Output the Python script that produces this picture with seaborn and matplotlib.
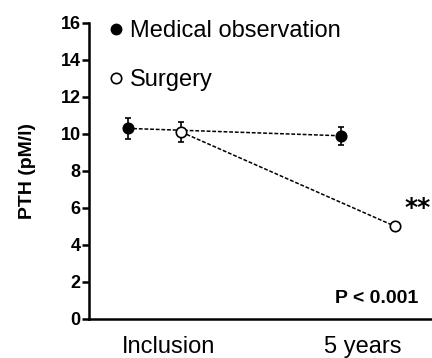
import matplotlib
matplotlib.use("Agg")
import matplotlib.pyplot as plt
import matplotlib.transforms as mtransforms
from matplotlib.lines import Line2D
import seaborn as sns
import pandas as pd

timepoints = ["Inclusion", "5 years"]
groups = ["Medical observation", "Surgery"]
medical_mean = [10.3, 9.9]
medical_err = [0.55, 0.5]
surgery_mean = [10.1, 5.0]
surgery_err = [0.55, 0.2]
yticks = [0, 2, 4, 6, 8, 10, 12, 14, 16]

df = pd.DataFrame({
    "time": timepoints * 2,
    "group": [groups[0]] * 2 + [groups[1]] * 2,
    "pth": medical_mean + surgery_mean,
})
errs = {groups[0]: medical_err, groups[1]: surgery_err}

sns.set_style("ticks")
plt.rcParams["font.family"] = ["Liberation Sans", "DejaVu Sans"]
plt.rcParams["text.color"] = "black"
plt.rcParams["axes.edgecolor"] = "black"
plt.rcParams["axes.labelcolor"] = "black"
plt.rcParams["xtick.color"] = "black"
plt.rcParams["ytick.color"] = "black"

fig = plt.figure(figsize=(4.32, 3.58), dpi=100)
ax = fig.add_axes([0.206, 0.109, 0.794, 0.827])

sns.pointplot(data=df, x="time", y="pth", hue="group", hue_order=groups,
              order=timepoints, palette=["black", "black"], dodge=0.252,
              errorbar=None, markers=["o", "o"], linestyles=[(0, (2.5, 1.2))] * 2,
              ax=ax, legend=False)

for line, g in zip(ax.lines[:2], groups):
    line.set_linewidth(1.1)
    line.set_markersize(7.5)
    line.set_markeredgecolor("black")
    line.set_markeredgewidth(1.2)
    if g == "Surgery":
        line.set_markerfacecolor("white")
    xy = line.get_xydata()
    ax.errorbar(xy[:, 0], xy[:, 1], yerr=errs[g], fmt="none", ecolor="black",
                elinewidth=1.2, capsize=2.5, capthick=1.2, zorder=1)

ax.set_ylim(0, 16)
ax.set_xlim(-0.306, 1.297)
ax.set_yticks(yticks)
ax.set_yticklabels([str(t) for t in yticks], fontweight="bold", fontsize=13)
ax.tick_params(axis="y", length=5, width=1.8, pad=1)
ax.tick_params(axis="x", length=0, pad=12, labelsize=17)
shifts = [14, -6]
for lab, dx in zip(ax.get_xticklabels(), shifts):
    lab.set_transform(lab.get_transform() +
                      mtransforms.ScaledTranslation(dx / 100, 0, fig.dpi_scale_trans))
ax.set_xlabel("")
ax.set_ylabel("PTH (pM/l)", fontweight="bold", fontsize=14, labelpad=18)
for s in ["top", "right"]:
    ax.spines[s].set_visible(False)
for s in ["left", "bottom"]:
    ax.spines[s].set_linewidth(1.8)

handles = [Line2D([], [], marker="o", linestyle="none", markerfacecolor="black",
                  markeredgecolor="black", markersize=7.5),
           Line2D([], [], marker="o", linestyle="none", markerfacecolor="white",
                  markeredgecolor="black", markersize=7.5, markeredgewidth=1.2)]
ax.legend(handles, groups, loc="upper left", bbox_to_anchor=(0.02, 1.042),
          frameon=False, fontsize=17, handletextpad=0.15, labelspacing=1.15,
          handlelength=0.9, borderaxespad=0)

ax.text(1.17, 6.0, "**", fontsize=18, ha="left", va="center",
        fontfamily="DejaVu Sans", fontweight="bold")
ax.text(0.959, 0.054, "P < 0.001", transform=ax.transAxes, ha="right",
        va="baseline", fontweight="bold", fontsize=14)

fig.savefig("out.png", dpi=100)
